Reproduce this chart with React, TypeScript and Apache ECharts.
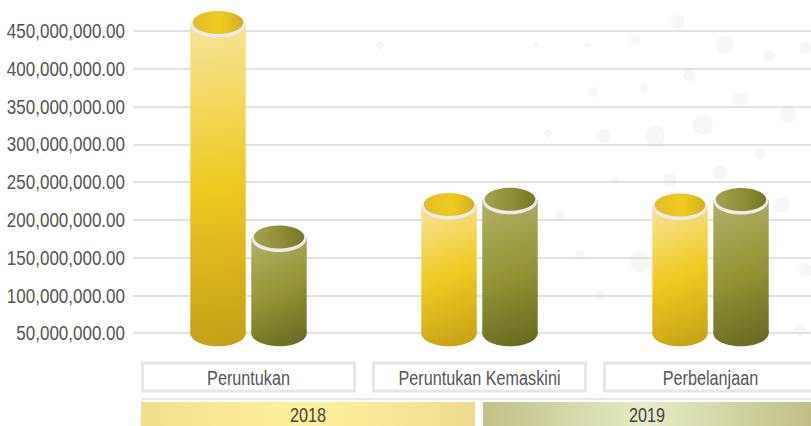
import React, { useEffect, useRef } from "react";
import * as echarts from "echarts";

const CATEGORIES = ["Peruntukan", "Peruntukan Kemaskini", "Perbelanjaan"];
const YEARS = ["2018", "2019"];
const VALUES_2018 = [460000000, 219000000, 218500000];
const VALUES_2019 = [176000000, 226000000, 225500000];
const Y_MIN = 0;
const Y_MAX = 450000000;
const Y_STEP = 50000000;
const BASELINE = 50000000;
const Y_TICKS = [50000000, 100000000, 150000000, 200000000, 250000000, 300000000, 350000000, 400000000, 450000000];

const FONT = "'Liberation Sans', Arial, sans-serif";
const NARROW = 0.81;

const BODY_COLORS = [
  ["#f8e49c", "#efca22", "#c49e17"],
  ["#b2b16a", "#949436", "#65671f"],
];
const TOP_COLORS = [
  ["#e2bd2c", "#efcb1e", "#d4af1e"],
  ["#a3a24e", "#8d8d37", "#767725"],
];
const LEGEND_COLORS = [
  ["#f2df8e", "#fff19c", "#f0db90"],
  ["#c2c088", "#e6ecc6", "#c0be85"],
];

const BOKEH: [number, number, number][] = [
  [678, 22, 7], [635, 40, 5], [725, 45, 9], [769, 56, 6], [805, 48, 6],
  [689, 75, 6], [593, 92, 5], [644, 88, 4], [740, 100, 8], [788, 115, 8],
  [703, 125, 10], [655, 136, 10], [603, 136, 7], [548, 133, 4], [760, 153, 6],
  [720, 173, 7], [670, 180, 7], [615, 180, 4], [640, 262, 10], [580, 255, 5],
  [600, 295, 5], [782, 205, 8], [806, 270, 7], [745, 250, 6], [380, 45, 4],
  [536, 45, 3], [587, 45, 3], [560, 215, 5], [800, 330, 6], [660, 310, 5],
];

function fmt(v: number) {
  return v.toLocaleString("en-US", { minimumFractionDigits: 2, maximumFractionDigits: 2 });
}

function makeRender(s: number) {
  return (params: any, api: any) => {
    const idx = api.value(0);
    const val = api.value(1);
    const top = api.coord([idx, val]);
    const base = api.coord([idx, BASELINE]);
    const band = api.size([1, 0])[0];
    const off = (s === 0 ? -1 : 1) * band * 0.132;
    const w = band * 0.24;
    const rx = w / 2;
    const ry = 13;
    const cx = top[0] + off;
    const bc = BODY_COLORS[s];
    const tc = TOP_COLORS[s];
    const bodyGrad = new echarts.graphic.LinearGradient(
      cx - rx, top[1], cx + rx, base[1] + ry,
      [
        { offset: 0, color: bc[0] },
        { offset: 0.5, color: bc[1] },
        { offset: 1, color: bc[2] },
      ],
      true
    );
    const topGrad = new echarts.graphic.LinearGradient(0, 0, 1, 0, [
      { offset: 0, color: tc[0] },
      { offset: 0.55, color: tc[1] },
      { offset: 1, color: tc[2] },
    ]);
    return {
      type: "group",
      children: [
        { type: "ellipse", shape: { cx, cy: base[1], rx, ry }, style: { fill: bodyGrad } },
        { type: "rect", shape: { x: cx - rx, y: top[1], width: w, height: base[1] - top[1] }, style: { fill: bodyGrad } },
        { type: "ellipse", shape: { cx, cy: top[1] + 1, rx: rx - 0.5, ry }, style: { fill: "#ebebeb" } },
        { type: "ellipse", shape: { cx, cy: top[1] - 1, rx: rx - 2.5, ry: ry - 1.5 }, style: { fill: topGrad } },
      ],
    };
  };
}

export default function App() {
  const ref = useRef<HTMLDivElement>(null);
  useEffect(() => {
    if (!ref.current) return;
    const chart = echarts.init(ref.current, undefined, { renderer: "svg" });
    const splitColors = ["rgba(0,0,0,0)"];
    for (let i = 0; i < 9; i++) splitColors.push("#d9d9d9");

    chart.setOption({
      animation: false,
      backgroundColor: "#ffffff",
      grid: { left: 133, top: 31, width: 693, height: 340, containLabel: false, outerBoundsMode: "none" },
      xAxis: {
        type: "category",
        data: CATEGORIES,
        axisLine: { show: false },
        axisTick: { show: false },
        splitLine: { show: false },
        axisLabel: { show: false },
      },
      yAxis: {
        type: "value",
        min: Y_MIN,
        max: Y_MAX,
        interval: Y_STEP,
        axisLine: { show: false },
        axisTick: { show: false },
        axisLabel: { show: false },
        splitLine: { lineStyle: { color: splitColors, width: 1.5 } },
      },
      series: [
        {
          type: "custom",
          name: YEARS[0],
          renderItem: makeRender(0),
          encode: { x: 0, y: 1 },
          data: VALUES_2018.map((v, i) => [i, v]),
          z: 5,
        },
        {
          type: "custom",
          name: YEARS[1],
          renderItem: makeRender(1),
          encode: { x: 0, y: 1 },
          data: VALUES_2019.map((v, i) => [i, v]),
          z: 5,
        },
      ],
    });

    const graphics: any[] = [];
    BOKEH.forEach(([x, y, r]) => {
      graphics.push({
        type: "circle",
        z: -10,
        silent: true,
        shape: { cx: x, cy: y, r },
        style: { fill: "rgba(205,205,205,0.18)" },
      });
    });

    // y tick labels
    Y_TICKS.forEach((v) => {
      const py = chart.convertToPixel({ yAxisIndex: 0 }, v) as number;
      graphics.push({
        type: "text",
        x: 125,
        y: py,
        scaleX: NARROW,
        style: {
          text: fmt(v),
          fill: "#555",
          font: `21px ${FONT}`,
          align: "right",
          verticalAlign: "middle",
        },
      });
    });

    // category boxes
    CATEGORIES.forEach((c, i) => {
      const px = chart.convertToPixel({ xAxisIndex: 0 }, i) as number;
      graphics.push({
        type: "rect",
        shape: { x: px - 106, y: 363, width: 212, height: 28 },
        style: { fill: "#ffffff", stroke: "#e6e6e6", lineWidth: 3 },
        z: 10,
      });
      graphics.push({
        type: "text",
        x: px,
        y: 378,
        scaleX: NARROW,
        z: 11,
        style: {
          text: c,
          fill: "#555",
          font: `20px ${FONT}`,
          align: "center",
          verticalAlign: "middle",
        },
      });
    });

    // legend bars
    const legendBoxes = [
      { x: 141, w: 334 },
      { x: 483, w: 328 },
    ];
    graphics.push({
      type: "line",
      shape: { x1: 141, y1: 399, x2: 811, y2: 399 },
      style: { stroke: "#e8e8e8", lineWidth: 2 },
    });
    YEARS.forEach((yr, i) => {
      const lc = LEGEND_COLORS[i];
      const b = legendBoxes[i];
      graphics.push({
        type: "rect",
        shape: { x: b.x, y: 402, width: b.w, height: 26 },
        style: {
          fill: new echarts.graphic.LinearGradient(0, 0, 1, 0, [
            { offset: 0, color: lc[0] },
            { offset: 0.5, color: lc[1] },
            { offset: 1, color: lc[2] },
          ]),
        },
      });
      graphics.push({
        type: "text",
        x: b.x + b.w / 2,
        y: 415,
        scaleX: NARROW,
        style: {
          text: yr,
          fill: "#444",
          font: `20px ${FONT}`,
          align: "center",
          verticalAlign: "middle",
        },
      });
    });

    chart.setOption({ graphic: graphics });
    return () => chart.dispose();
  }, []);
  return (
    <div
      ref={ref}
      style={{ position: "fixed", left: 0, top: 0, width: 811, height: 426 }}
    />
  );
}
